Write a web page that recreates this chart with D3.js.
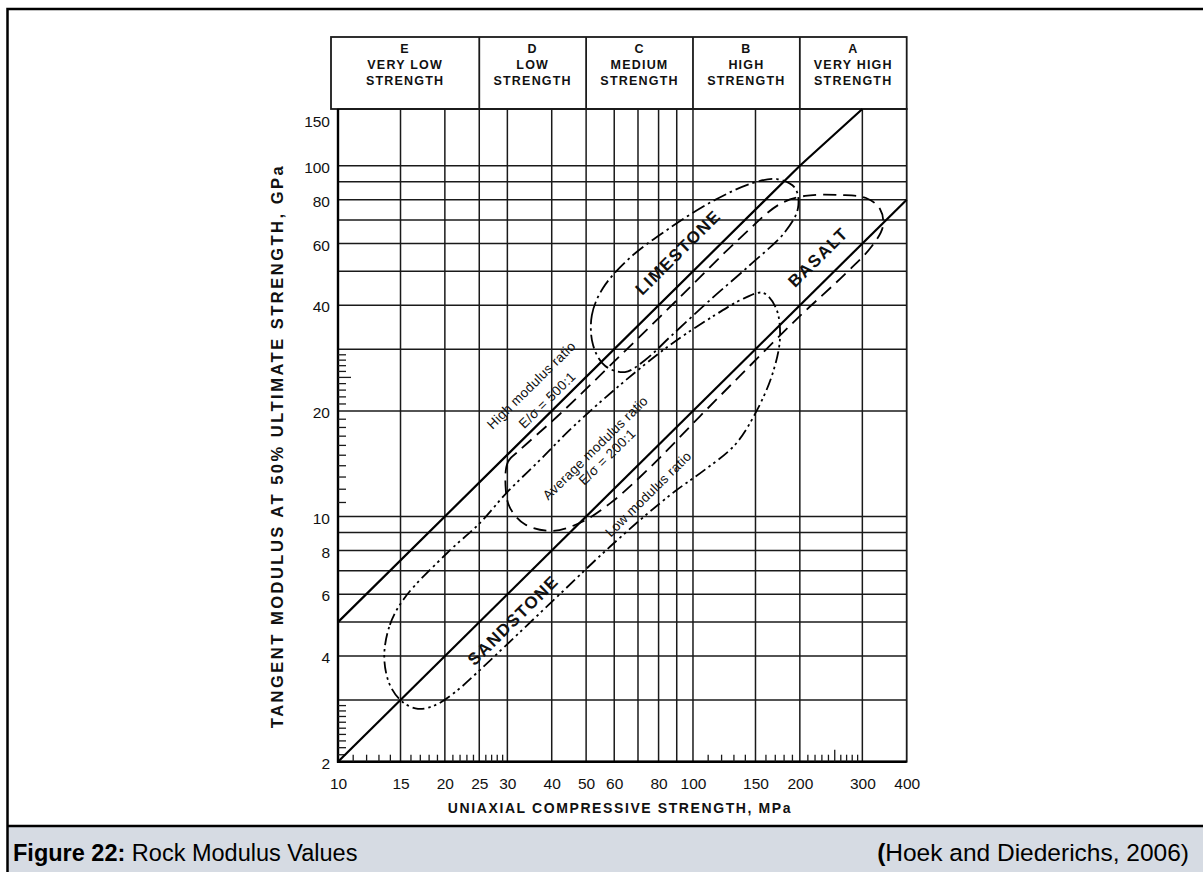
<!DOCTYPE html>
<html><head><meta charset="utf-8">
<script src="https://cdn.jsdelivr.net/npm/d3@7"></script>
<style>
html,body{margin:0;padding:0;background:#fff;}
svg{display:block;}
text{font-family:"Liberation Sans",Arial,Helvetica,sans-serif;fill:#111;}
</style></head><body>
<svg id="chart" width="1203" height="872"></svg>
<script>
// Strength classes across the top (MPa class limits)
const classLetters = ["E", "D", "C", "B", "A"];
const classNames = [["VERY LOW", "STRENGTH"], ["LOW", "STRENGTH"], ["MEDIUM", "STRENGTH"], ["HIGH", "STRENGTH"], ["VERY HIGH", "STRENGTH"]];
const classBounds = [10, 25, 50, 100, 200, 400];

// Axis ticks and grid (log-log paper)
const xTicks = [10, 15, 20, 25, 30, 40, 50, 60, 80, 100, 150, 200, 300, 400];
const yTicks = [2, 4, 6, 8, 10, 20, 40, 60, 80, 100, 150];
const xGrid = [15, 20, 25, 30, 40, 50, 60, 70, 80, 90, 100, 150, 200, 300];
const yGrid = [3, 4, 5, 6, 7, 8, 9, 10, 20, 30, 40, 50, 60, 70, 80, 90, 100];
const xMinor = [11, 12, 13, 14, 16, 17, 18, 19, 21, 22, 23, 24, 26, 27, 28, 29,
                110, 120, 130, 140, 160, 170, 180, 190, 210, 220, 230, 240, 260, 270, 280, 290];
const xMinorLong = [250];
const yMinor = [2.1, 2.2, 2.3, 2.4, 2.5, 2.6, 2.7, 2.8, 2.9,
                11, 12, 13, 14, 15, 16, 17, 18, 19,
                21, 22, 23, 24, 26, 27, 28, 29];
const yMinorLong = [25];

// Modulus ratio lines E/sigma (E in GPa, sigma in MPa); vertices at these UCS values
const ratioLines = [
  { ratio: 500, ucs: [10, 200, 300] },
  { ratio: 200, ucs: [10, 400] }
];

// Rock type envelopes, [UCS MPa, modulus GPa]
const limestone = [[52.3, 30.8], [51.9, 37.5], [55.8, 44.8], [66.4, 54.6], [84.5, 65.6], [113.8, 79.3],
  [147.6, 89.3], [172.5, 91.6], [193.8, 86.4], [197.6, 75.7], [181.6, 64.7], [144.7, 52.1],
  [111.7, 41.4], [87.3, 32.9], [73.2, 27.9], [64.3, 25.8], [56.5, 26.9]];
const basalt = [[29.7, 11.9], [30.1, 14.3], [32.6, 15.5], [42.2, 19.6], [62.3, 28.7], [91.9, 42.2],
  [135.7, 62.2], [175.9, 77.8], [206.8, 82.0], [259.5, 82.5], [307.2, 80.9], [336.4, 75.3],
  [342.9, 67.3], [319.3, 59.0], [268.1, 49.1], [200.2, 37.3], [144.7, 26.9], [104.6, 19.3],
  [75.7, 13.8], [58.4, 10.9], [48.1, 9.6], [40.1, 9.1], [33.6, 9.5], [30.5, 10.6]];
const sandstone = [[13.5, 3.98], [14.0, 4.91], [15.4, 5.86], [20.3, 7.87], [25.1, 9.58], [29.9, 11.7],
  [37.1, 14.5], [45.9, 18.0], [62.3, 23.7], [86.1, 30.8], [115.3, 37.5], [140.2, 42.0],
  [157.5, 43.4], [171.3, 39.3], [175.9, 32.5], [168.1, 25.8], [151.5, 20.1], [131.3, 16.0],
  [108.1, 13.6], [89.0, 11.8], [70.9, 9.77], [54.7, 7.72], [42.2, 6.01], [32.6, 4.69],
  [25.1, 3.65], [21.4, 3.16], [18.8, 2.90], [16.8, 2.83], [15.2, 2.96], [14.0, 3.31]];

// Annotations placed at [UCS, modulus]
const rockNames = [
  { text: "LIMESTONE", at: [90.7, 56.7] },
  { text: "BASALT", at: [224.9, 54.9] },
  { text: "SANDSTONE", at: [31.1, 5.07] }
];
const ratioNotes = [
  { text: "High modulus ratio", at: [35.0, 23.7] },
  { text: "E/\u03C3 = 500:1", at: [38.8, 21.5] },
  { text: "Average modulus ratio", at: [53.0, 15.7] },
  { text: "E/\u03C3 = 200:1", at: [57.2, 14.8] },
  { text: "Low modulus ratio", at: [74.7, 11.6] }
];

const svg = d3.select("#chart");

// Page frame and caption band
svg.append("rect").attr("x", 8).attr("y", 826).attr("width", 1195).attr("height", 46).attr("fill", "#d6dbe3");
svg.append("path").attr("d", "M7.5,872 V9 H1203").attr("fill", "none").attr("stroke", "#000").attr("stroke-width", 2.5);
svg.append("line").attr("x1", 7).attr("x2", 1203).attr("y1", 826).attr("y2", 826).attr("stroke", "#000").attr("stroke-width", 2.5);

const caption = svg.append("text").attr("x", 13).attr("y", 861).style("font-size", "23.5px").style("fill", "#000");
caption.append("tspan").attr("font-weight", "bold").text("Figure 22:");
caption.append("tspan").text(" Rock Modulus Values");
const source = svg.append("text").attr("x", 1189).attr("y", 861).attr("text-anchor", "end")
  .style("font-size", "24.5px").style("fill", "#000");
source.append("tspan").attr("font-weight", "bold").text("(");
source.append("tspan").text("Hoek and Diederichs, 2006)");

// Scales (the printed modulus axis is compressed above 100 GPa)
const x = d3.scaleLog().domain([10, 400]).range([338, 906.7]);
const y = d3.scaleLog().domain([2, 100, 150]).range([761.7, 165.7, 109]);
const [x0, x1] = x.range();
const y0 = y(2), y1 = y(150);

const plot = svg.append("g");
const ink = "#1a1a1a";

// Grid
plot.append("g").selectAll("line").data(xGrid).join("line")
  .attr("x1", d => x(d)).attr("x2", d => x(d)).attr("y1", y0).attr("y2", y1)
  .attr("stroke", ink).attr("stroke-width", 1.5);
plot.append("g").selectAll("line").data(yGrid).join("line")
  .attr("x1", x0).attr("x2", x1).attr("y1", d => y(d)).attr("y2", d => y(d))
  .attr("stroke", ink).attr("stroke-width", 1.5);

// Header with strength classes
const headTop = 37;
const header = plot.append("g");
header.append("rect").attr("x", x0 - 7).attr("y", headTop).attr("width", x1 - x0 + 7).attr("height", y1 - headTop)
  .attr("fill", "none").attr("stroke", ink).attr("stroke-width", 1.8);
header.selectAll("line.div").data(classBounds.slice(1, -1)).join("line")
  .attr("x1", d => x(d)).attr("x2", d => x(d)).attr("y1", headTop).attr("y2", y1)
  .attr("stroke", ink).attr("stroke-width", 1.8);
classLetters.forEach((letter, i) => {
  const cx = i === 0 ? (x0 - 7 + x(classBounds[1])) / 2 : (x(classBounds[i]) + x(classBounds[i + 1])) / 2;
  const lines = [letter].concat(classNames[i]);
  lines.forEach((t, j) => {
    header.append("text").attr("x", cx).attr("y", 53 + j * 16).attr("text-anchor", "middle")
      .style("font-size", "12.5px").style("font-weight", "bold").style("letter-spacing", "1.2px").text(t);
  });
});

// Plot frame
plot.append("rect").attr("x", x0).attr("y", y1).attr("width", x1 - x0).attr("height", y0 - y1)
  .attr("fill", "none").attr("stroke", ink).attr("stroke-width", 1.8);
plot.append("line").attr("x1", x0).attr("x2", x0).attr("y1", y0 + 1).attr("y2", y1).attr("stroke", "#000").attr("stroke-width", 2.4);
plot.append("line").attr("x1", x0 - 1).attr("x2", x1).attr("y1", y0).attr("y2", y0).attr("stroke", "#000").attr("stroke-width", 2.4);

// Axes
const xAxis = plot.append("g").attr("transform", `translate(0,${y0})`)
  .call(d3.axisBottom(x).tickValues(xTicks).tickFormat(d3.format("d")).tickSize(0).tickPadding(16));
const yAxis = plot.append("g").attr("transform", `translate(${x0},0)`)
  .call(d3.axisLeft(y).tickValues(yTicks).tickFormat(d3.format("d")).tickSize(0).tickPadding(8));
[xAxis, yAxis].forEach(a => {
  a.select(".domain").remove();
  a.selectAll("text").style("font-size", "15.5px").style("font-family", "'Liberation Sans',Arial,sans-serif").attr("fill", "#111");
});
yAxis.selectAll("text").attr("dy", d => d === 150 ? "1.1em" : "0.42em");

// Minor ticks
const minor = (g, axis) => { g.call(axis); g.select(".domain").remove(); g.selectAll("line").attr("stroke", ink).attr("stroke-width", 1.3); };
plot.append("g").attr("transform", `translate(0,${y0})`).call(g => minor(g, d3.axisBottom(x).tickValues(xMinor).tickSize(-7).tickFormat("")));
plot.append("g").attr("transform", `translate(0,${y0})`).call(g => minor(g, d3.axisBottom(x).tickValues(xMinorLong).tickSize(-12).tickFormat("")));
plot.append("g").attr("transform", `translate(${x0},0)`).call(g => minor(g, d3.axisLeft(y).tickValues(yMinor).tickSize(-8).tickFormat("")));
plot.append("g").attr("transform", `translate(${x0},0)`).call(g => minor(g, d3.axisLeft(y).tickValues(yMinorLong).tickSize(-13).tickFormat("")));

// Axis titles
plot.append("text").attr("x", 620).attr("y", 813).attr("text-anchor", "middle")
  .style("font-size", "14px").style("font-weight", "bold").style("letter-spacing", "1.6px")
  .text("UNIAXIAL COMPRESSIVE STRENGTH, MPa");
plot.append("text").attr("transform", `translate(283,446) rotate(-90)`).attr("text-anchor", "middle")
  .style("font-size", "16.5px").style("font-weight", "bold").style("letter-spacing", "2.5px")
  .text("TANGENT MODULUS AT 50% ULTIMATE STRENGTH, GPa");

// Modulus ratio lines
ratioLines.forEach(r => {
  const pts = r.ucs.map(s => [x(s), y(r.ratio * s / 1000)]);
  plot.append("path").attr("d", d3.line()(pts)).attr("fill", "none").attr("stroke", "#000").attr("stroke-width", 2.2);
});

// Rock envelopes
const outline = d3.line().x(d => x(d[0])).y(d => y(d[1])).curve(d3.curveCatmullRomClosed.alpha(0.5));
const envelopes = [
  { pts: limestone, dash: "14 4 2.5 4" },
  { pts: basalt, dash: "13 7" },
  { pts: sandstone, dash: "12 4 2.5 3.5 2.5 4" }
];
envelopes.forEach(e => {
  plot.append("path").attr("d", outline(e.pts)).attr("fill", "none").attr("stroke", "#000")
    .attr("stroke-width", 1.8).attr("stroke-dasharray", e.dash);
});

// Labels along the ratio direction
const angle = Math.atan2(y(80) - y(2), x(400) - x(10)) * 180 / Math.PI;
plot.selectAll("text.rock").data(rockNames).join("text").attr("class", "rock")
  .attr("transform", d => `translate(${x(d.at[0])},${y(d.at[1])}) rotate(${angle})`)
  .attr("text-anchor", "middle").attr("dy", "0.36em")
  .style("font-size", "17px").style("font-weight", "bold").style("letter-spacing", "1.5px")
  .text(d => d.text);
plot.selectAll("text.note").data(ratioNotes).join("text").attr("class", "note")
  .attr("transform", d => `translate(${x(d.at[0])},${y(d.at[1])}) rotate(${angle})`)
  .attr("text-anchor", "middle").attr("dy", "0.36em")
  .style("font-size", "13.5px").style("letter-spacing", "0.3px")
  .text(d => d.text);
</script>
</body></html>
